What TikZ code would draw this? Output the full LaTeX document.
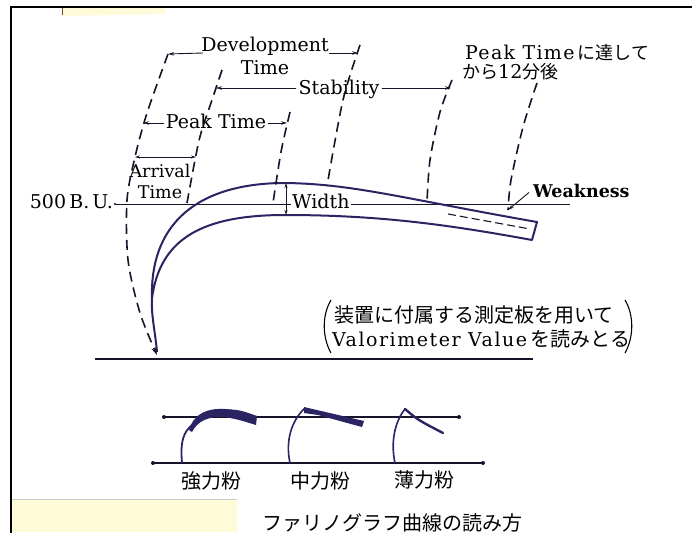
\documentclass[tikz,border=0pt]{standalone}
\usepackage{fontspec}
\setmainfont{DejaVu Serif}
\newfontfamily\wide[LetterSpace=8]{DejaVu Serif}
\newfontfamily\semiwide[LetterSpace=7]{DejaVu Serif}
\newfontfamily\jp{Noto Sans CJK JP}
\usetikzlibrary{arrows.meta}
\definecolor{ink}{HTML}{17142A}
\definecolor{navy}{HTML}{2B2463}
\definecolor{paper}{HTML}{FFFBD8}
\begin{document}
\begin{tikzpicture}[x=1pt,y=-1pt,
  lab/.style={font=\fontsize{19}{21}\selectfont, inner sep=0pt, text=black},
  jlab/.style={font=\fontsize{20}{22}\jp, inner sep=0pt, text=black},
  dline/.style={draw=ink, line width=1.6pt, dash pattern=on 10pt off 6pt},
  arr/.style={draw=ink, line width=0.9pt, -{Stealth[length=6pt,width=3.5pt]}},
  darr/.style={draw=ink, line width=0.9pt, {Stealth[length=5pt,width=3pt]}-{Stealth[length=5pt,width=3pt]}},
  thinl/.style={draw=ink, line width=1pt},
  curve/.style={draw=navy, line width=2pt},
]
\useasboundingbox (0,0) rectangle (692,532);
\fill[white] (0,0) rectangle (692,532);
% paper patches
\fill[paper] (62,8) -- (165,8) -- (165,14) -- (62,16) -- cycle;
\draw[brown!60!black, line width=0.8pt] (62,8) -- (62,15);
\fill[paper] (12,499) rectangle (237,532);
\draw[gray!40, line width=0.6pt] (12,499) -- (237,499);
% frame
\draw[black, line width=2.4pt] (11,533) -- (11,7) -- (693,7);

% ---- texts ----
\node[lab, anchor=base, align=center, font=\fontsize{19}{23}\selectfont] (dev) at (265,75) {Development\\Time};
\node[lab, anchor=base] (stab) at (339,95) {Stability};
\node[lab, anchor=base] (peak) at (216,128) {Peak Time};
\node[lab, anchor=base, align=center, font=\fontsize{17.5}{20.5}\selectfont] (arr1) at (160,198) {Arrival\\Time};
\node[lab, anchor=base east] (bu) at (113,208) {500\,B.\,U.};
\node[lab, anchor=base west] (p12a) at (465,60) {{\semiwide Peak Time}\,{\fontsize{18}{20}\jp に達して}};
\node[lab, anchor=base west] (p12b) at (462,79) {{\fontsize{18}{20}\jp から}12{\fontsize{18}{20}\jp 分後}};
\node[lab, anchor=base west] (vl1) at (334,322) {{\fontsize{20}{22}\jp 装置に付属する測定板を用いて}};
\node[lab, anchor=base west] (vl2) at (332,346) {{\wide Valorimeter Value}\,{\fontsize{20}{22}\jp を読みとる}};
\node[jlab] (k1) at (211,481) {強力粉};
\node[jlab] (k2) at (320,481) {中力粉};
\node[jlab] (k3) at (424,480) {薄力粉};
\node[jlab] (title) at (392,523) {ファリノグラフ曲線の読み方};

% parentheses
\draw[black, line width=1.1pt] (331,300) .. controls (322,315) and (322,337) .. (331,353);
\draw[black, line width=1.1pt] (625,300) .. controls (634,315) and (634,337) .. (625,353);

% ---- coordinates ----
\coordinate (d1a) at (168,54);
\coordinate (d1b) at (157,355);
\coordinate (d2a) at (222,70);
\coordinate (d2b) at (187,203);
\coordinate (d3a) at (290,112);
\coordinate (d3b) at (273,203);
\coordinate (d4a) at (360,45);
\coordinate (d4b) at (327,186);
\coordinate (d5a) at (452,80);
\coordinate (d5b) at (427,202);
\coordinate (d6a) at (537,83);
\coordinate (d6b) at (508,210);

% baselines
\coordinate (bl1) at (95,359);
\coordinate (bl2) at (533,359);
\draw[ink, line width=1.8pt] (bl1) -- (bl2);
\coordinate (bu1) at (115,204);
\coordinate (bu2) at (570,204);
\draw[thinl] (bu1) -- (bu2);
\fill[ink] (bu1) circle (1.2);

% main farinograph curve
\draw[curve, line join=round]
  (157,352) .. controls (155,330) and (151,315) .. (152,298)
  .. controls (150,230) and (190,185) .. (280,183)
  .. controls (350,183) and (400,198) .. (537,222)
  -- (532,240)
  .. controls (450,225) and (380,215) .. (285,215)
  .. controls (200,215) and (160,240) .. (152,298);
\draw[ink, line width=1.1pt, dash pattern=on 8pt off 4pt] (448,214) -- (530,229);

% width
\node[lab, anchor=base west, fill=white, inner sep=1pt] (wid) at (291,208) {Width};
\coordinate (w1) at (286,183);
\coordinate (w2) at (286,215);
\draw[darr] (w1) -- (w2);

% weakness
\node[lab, anchor=base west, font=\fontsize{17.5}{19}\selectfont\bfseries] (weak) at (533,197) {Weakness};
\draw[arr] (weak.west) ++(-4,2) coordinate (wk0) -- (d6b);

% dashed lines
\draw[dline, -{Stealth[length=8pt,width=5pt]}] plot[smooth] coordinates {(d1a) (147,113) (135,157) (127,200) (128,260) (140,313) (d1b)};
\draw[dline] plot[smooth] coordinates {(d2a) (213,97) (201,133) (195,160) (d2b)};
\draw[dline] plot[smooth] coordinates {(d3a) (281,152) (d3b)};
\draw[dline] plot[smooth] coordinates {(d4a) (343,100) (d4b)};
\draw[dline] plot[smooth] coordinates {(d5a) (440,112) (430,160) (d5b)};
\draw[dline] plot[smooth] coordinates {(d6a) (523,127) (511,180) (d6b)};

% dimension arrows
\coordinate (dv1) at (168,54);
\coordinate (dv2) at (358,53);
\draw[arr] (203,53) -- (dv1);
\draw[arr] (329,53) -- (dv2);
\coordinate (st1) at (216,88);
\coordinate (st2) at (451,88);
\draw[arr] ([xshift=-2pt,yshift=7pt]stab.base west) -- (st1);
\draw[arr] ([xshift=2pt,yshift=7pt]stab.base east) -- (st2);
\coordinate (pk1) at (143,123);
\coordinate (pk2) at (287,123);
\draw[arr] ([xshift=-2pt,yshift=5pt]peak.base west) -- (pk1);
\draw[arr] ([xshift=2pt,yshift=5pt]peak.base east) -- (pk2);
\coordinate (av1) at (135,157);
\coordinate (av2) at (196,157);
\draw[darr] (av1) -- (av2);

% ---- small curves ----
\coordinate (s1) at (164,417);
\coordinate (s2) at (459,417);
\coordinate (t1) at (153,463);
\coordinate (t2) at (483,463);
\draw[ink, line width=1.2pt] (s1) -- (s2);
\draw[ink, line width=1.5pt] (t1) -- (t2);
\foreach \p in {s1,s2,t1,t2} \fill[ink] (\p) circle (2);
% strong flour
\draw[navy, line width=1.8pt] (182,463) .. controls (180,440) and (184,432) .. (192,425);
\fill[navy] (189,430) .. controls (194,413) and (208,408) .. (225,409)
   .. controls (240,410) .. (257,416) -- (256,425)
   .. controls (240,420) .. (225,417) .. controls (210,416) and (198,420) .. (192,432) -- cycle;
% medium flour
\draw[navy, line width=1.6pt] (290,463) .. controls (285,440) and (292,420) .. (305,408);
\fill[navy] (304,407) -- (364,421) -- (362,427) -- (318,415) -- (304,413) -- cycle;
% weak flour
\draw[navy, line width=1.6pt] (395,463) .. controls (390,440) and (396,420) .. (405,409);
\draw[navy, line width=2.4pt, line cap=round] (405,409) .. controls (418,420) .. (443,433);
\end{tikzpicture}
\end{document}
